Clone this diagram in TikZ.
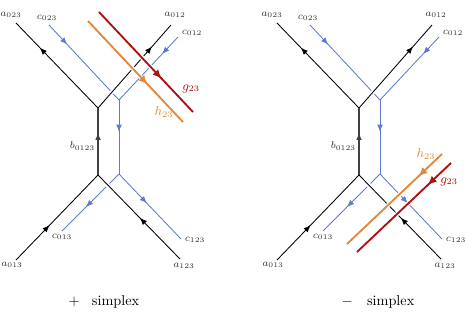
\documentclass[tikz,border=0pt]{standalone}
\usepackage{amsmath}
\usetikzlibrary{arrows.meta,decorations.markings}

\definecolor{cblue}{RGB}{94,124,204}
\definecolor{horange}{RGB}{226,136,62}
\definecolor{gred}{RGB}{176,16,16}

\tikzset{
  tip/.style={postaction={decorate,decoration={markings,
      mark=at position #1 with {\arrow{Latex[length=5pt,width=4pt]}}}}},
  bigtip/.style={postaction={decorate,decoration={markings,
      mark=at position #1 with {\arrow{Latex[length=6.5pt,width=5.5pt]}}}}},
  aline/.style={black, line width=0.6pt},
  cline/.style={cblue, line width=0.6pt},
  bline/.style={black!75, line width=1pt},
  over/.style={preaction={draw=white, line width=3pt}},
  gline/.style={gred, line width=1.3pt, over},
  hline/.style={horange, line width=1.3pt, over},
  lab/.style={font=\scriptsize, text=black!80, inner sep=0.5pt},
  glab/.style={font=\small, inner sep=0.5pt}
}

\begin{document}
\begin{tikzpicture}[x=0.7pt, y=-0.7pt]
  \useasboundingbox (0,0) rectangle (466,321);

  % the two trivalent graphs, with the doubled (blue) copy
  \foreach \s/\dx in {L/0,R/261}{
  \begin{scope}[shift={(\dx,0)}]
    \coordinate (\s v1) at (98,108);
    \coordinate (\s v2) at (98,175);
    \coordinate (\s w1) at (119,100);
    \coordinate (\s w2) at (119,174);
    \coordinate (\s a023) at (16,23);
    \coordinate (\s a012) at (171,25);
    \coordinate (\s a013) at (16,260);
    \coordinate (\s a123) at (180,259);
    \coordinate (\s c023) at (49,25);
    \coordinate (\s c012) at (178,37);
    \coordinate (\s c013) at (62,231);
    \coordinate (\s c123) at (181,239);

    \draw[cline, tip=0.26] (\s c023) -- (\s w1);
    \draw[cline, tip=0.27] (\s c012) -- (\s w1);
    \draw[cline, tip=0.43] (\s w1) -- (\s w2);
    \draw[cline, tip=0.58] (\s w2) -- (\s c013);
    \draw[cline, tip=0.45] (\s w2) -- (\s c123);

    \draw[aline, over, tip=0.74] (\s v1) -- (\s a012);
    \draw[aline, over, tip=0.49] (\s a123) -- (\s v2);
    \draw[aline, tip=0.71] (\s v1) -- (\s a023);
    \draw[aline, tip=0.41] (\s a013) -- (\s v2);
    \draw[bline, tip=0.63] (\s v2) -- (\s v1);

    \node[lab] (\s la023) at (11,15) {$a_{023}$};
    \node[lab] (\s la012) at (175,15) {$a_{012}$};
    \node[lab] (\s la013) at (12,265) {$a_{013}$};
    \node[lab] (\s la123) at (184,266) {$a_{123}$};
    \node[lab] (\s lc023) at (47,18) {$c_{023}$};
    \node[lab] (\s lc012) at (192,33) {$c_{012}$};
    \node[lab] (\s lc013) at (62,237) {$c_{013}$};
    \node[lab] (\s lc123) at (195,240) {$c_{123}$};
    \node[lab, anchor=east] (\s lb) at (96,146) {$b_{0123}$};
  \end{scope}}

  % crossing strands
  \coordinate (gL1) at (99,12);   \coordinate (gL2) at (193,112);
  \coordinate (hL1) at (88,21);   \coordinate (hL2) at (183,122);
  \coordinate (gR1) at (451,163); \coordinate (gR2) at (357,252);
  \coordinate (hR1) at (442,154); \coordinate (hR2) at (347,244);

  \draw[hline, bigtip=0.63] (hL1) -- (hL2);
  \draw[gline, bigtip=0.67] (gL1) -- (gL2);
  \draw[hline, bigtip=0.25] (hR1) -- (hR2);
  \draw[gline, bigtip=0.25] (gR1) -- (gR2);

  \node[glab, text=gred] (gLlab) at (191,89) {$g_{23}$};
  \node[glab, text=horange] (hLlab) at (164,112) {$h_{23}$};
  \node[glab, text=gred] (gRlab) at (449,182) {$g_{23}$};
  \node[glab, text=horange] (hRlab) at (426,154) {$h_{23}$};

  \node (plus) at (104,302) {$+$\hspace{8.5pt}simplex};
  \node (minus) at (378,302) {$-$\quad simplex};
\end{tikzpicture}
\end{document}
